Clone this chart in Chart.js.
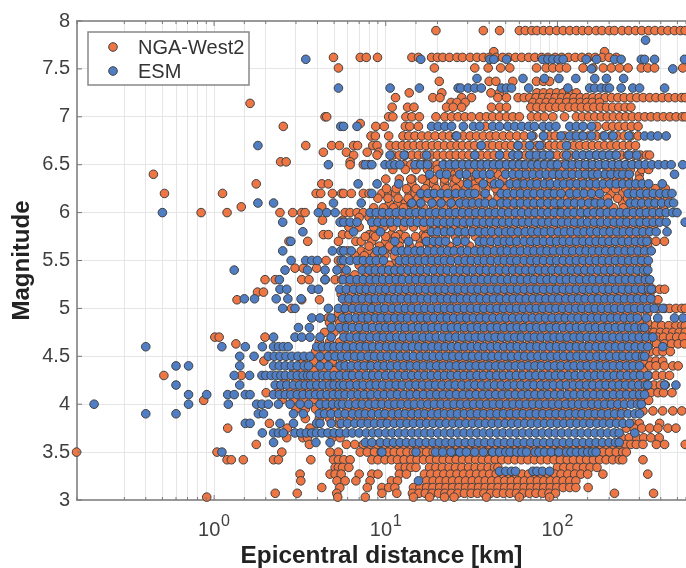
<!DOCTYPE html>
<html>
<head>
<meta charset="utf-8">
<style>
  html, body { margin: 0; padding: 0; background: #fff; overflow: hidden; }
  canvas { display: block; }
</style>
<script src="https://cdn.jsdelivr.net/npm/chart.js@4"></script>
</head>
<body>
<canvas id="scatter" width="686" height="568"></canvas>
<script>
const seriesNames = ['NGA-West2', 'ESM'];
const magnitudeTicks = [3, 3.5, 4, 4.5, 5, 5.5, 6, 6.5, 7, 7.5, 8];
const distanceExponents = { 1: '0', 10: '1', 100: '2' };

// NGA-West2: one magnitude per row, distances [km]
const ngaMagnitudes = [7.9, 7.68, 7.62, 7.51, 7.37, 7.25, 7.2, 7.15, 7.1, 7.14, 7, 6.93, 6.9, 6.8, 6.7, 6.63, 6.6, 6.53, 6.5, 6.4, 6.35, 6.3, 6.2, 6.1, 6.06, 6, 5.92, 5.77, 5.7, 5.6, 5.5, 5.42, 5.3, 5.17, 5.2, 5.09, 5, 4.9, 4.82, 4.75, 4.7, 4.63, 4.55, 4.45, 4.4, 4.3, 4.2, 4.12, 4.04, 3.93, 3.8, 3.75, 3.65, 3.58, 3.5, 3.42, 3.34, 3.27, 3.2, 3.13, 3.07, 3.03,
  6.45, 6.35, 6.25, 6.15, 6.05, 5.95, 5.85, 5.75, 5.65, 5.55, 5.45, 5.35, 5.25, 5.15, 5.05, 4.95, 4.85, 4.75, 4.65, 4.55, 4.45, 4.35, 4.25, 4.15, 4.05, 3.95, 3.85];
const ngaDistances = [
  [19.6, 37, 46, 60, 65, 71, 76, 83, 90, 99, 108, 118, 129, 140, 152, 168, 182, 200, 215, 238, 260, 285, 310, 340, 370, 405, 440, 480, 520, 555],
  [42.6, 188],
  [4.96, 7.1, 7.7, 8.95, 14.2, 15.5, 18.5, 20, 21.5, 23.5, 26, 28, 31, 34, 37, 40, 44, 48, 52, 57, 62, 68, 74, 81, 88, 97, 106, 116, 127, 139, 152, 166, 182, 200, 220],
  [5.3, 19.2, 33, 39.5, 46.7, 52.8, 75.5, 86, 94, 103, 113, 141, 161, 185, 206, 230, 258, 308, 336, 368, 537],
  [20.5, 40, 43.8, 55, 75.5, 83, 90],
  [13.7, 21.2, 41, 46, 76, 83, 91, 99, 108, 118, 129],
  [11.4, 18.8, 20.7, 27.7, 31.6, 45, 50.5, 59, 64, 69, 75, 82, 89, 97, 106, 115, 125, 136, 148, 161, 175, 190, 207, 225, 245, 267, 290, 316, 345, 375, 408, 445, 485, 528, 555],
  [24, 26, 29, 72, 79, 86, 94, 103, 113, 124, 136, 148, 160, 176],
  [10.9, 13.4, 14.6, 22.6, 24.7, 27.7, 41.3, 46.2, 50.5, 70, 76, 83, 90, 98, 107, 117, 127, 138, 150, 163, 178, 193, 210, 228, 248, 268],
  [1.62],
  [4.43, 4.53, 10.4, 11, 13.1, 14.2, 15.7, 19.6, 22.1, 24.2, 26.4, 28.9, 31.6, 35.3, 38.6, 42, 46, 50.5, 55, 60, 70.6, 77, 84, 94, 110, 129, 140, 152, 165, 180, 195, 212, 231, 251, 273, 297, 323, 351, 382, 415, 452, 491, 534, 556],
  [7.1],
  [2.53, 8.75, 9.8, 13, 13.8, 15.5, 38, 170, 193, 210, 228, 248, 270, 295],
  [8.2, 8.7, 10.4, 12.6, 13.6, 14.8, 16.2, 17.7, 19.4, 21.5, 23.5, 25.6, 28.3, 31, 33.8, 37, 40.5, 44, 48.3, 52.8, 58, 64, 72, 83, 90, 97, 110, 124, 138, 152, 168, 185, 205, 224, 245, 268, 295],
  [3.42, 4.84, 5.37, 6.5, 6.85, 8.4, 8.9, 10.6, 11.5, 12.5, 13.5, 14.6, 15.9, 17.2, 18.7, 20.2, 22, 24, 26, 28, 30.5, 33, 36, 39, 42, 46, 50, 54, 59, 64, 70, 76, 82, 90, 97, 105, 115, 125, 135, 147, 160, 174, 189, 205, 222, 242, 263, 285],
  [4.33, 5.9, 7.8, 9.1],
  [6.5, 8.9, 11, 12, 13, 14.2, 15.5, 16.8, 18.3, 20, 21.7, 23.7, 25.7, 28, 30.5, 33.2, 36, 39.3, 42.8, 46.5, 50.7, 55.2, 60, 65.4, 71.3, 77.6, 84.5, 92, 100, 109, 119, 129, 141, 153, 167, 182, 198, 216, 235, 256, 279, 304, 330, 344],
  [2.44, 2.63, 6.2],
  [6.2, 7.4, 8, 12.8, 14, 15.3, 16.7, 18.2, 19.9, 22, 24.4, 26.6, 29, 31.6, 34.5, 37.6, 41, 44.7, 48.7, 53, 58, 63, 69, 75, 82, 89, 97, 106, 115, 126, 137, 150, 163, 178, 194, 212, 231, 252, 275, 300],
  [0.443, 25, 40.5, 45, 90, 98, 155, 190, 215, 250, 300],
  [10, 14.2, 17.6, 22, 25, 31, 35],
  [1.76, 4.24, 4.63, 14.2, 17.6, 19, 22, 25, 27, 33, 40, 48, 55, 60],
  [0.514, 1.12, 3.93, 4.18, 4.89, 5.54, 5.68, 6.3, 7.4, 8, 9.5, 10.4, 11.4, 13.7, 14.8, 16, 17.3, 18.8, 20.6, 22.6, 24.8, 34, 45, 90, 115, 150, 205, 240],
  [10.5, 11.8, 13, 14, 15.5, 33, 100, 125, 160, 240],
  [1.44, 4.24],
  [0.84, 1.19, 2.42, 2.87, 3.24, 3.39, 5.8, 6.2, 6.8, 7.4, 100, 145],
  [3.17, 4.28, 5.6],
  [4.33, 4.63, 5.6, 6.1, 8, 8.5, 10.8, 12, 16.5, 17.3],
  [2.73, 3.51, 5.3, 6.7, 7.2, 8.3, 10, 11, 12, 16, 17, 340, 375, 420],
  [5.6, 6, 7.2, 7.9, 9.8, 11, 25],
  [4.49, 5.3, 11.5],
  [2.96, 3.31, 3.96, 5.5],
  [1.98, 2.27, 3.24, 3.57, 4.43, 5.07, 5.54],
  [1.79, 1.94],
  [360, 394, 421],
  [1.36, 3.24, 4.11, 8, 9, 360, 385],
  [2.83, 386, 420, 450, 490, 530, 555],
  [4.6, 5.2, 5.7],
  [345, 372, 405, 445, 490, 530, 555],
  [338, 365, 398, 432, 470, 512, 555],
  [1.01, 1.07, 1.98, 352, 382, 415, 455, 495, 538],
  [1.34, 345, 378, 420, 462, 505, 550],
  [348, 380, 412, 455],
  [1.95, 322, 345, 375, 410],
  [5.07, 315, 345, 375, 420, 470, 505],
  [0.51, 1.44, 310, 340, 375, 410, 450],
  [336, 365, 398, 425],
  [2.01, 322, 350, 385, 415, 465],
  [0.87, 310, 340],
  [315, 360, 410, 470, 530],
  [2.1, 5.3, 275, 300, 394],
  [1.2, 2.67, 3.62, 252, 280, 310, 345, 385, 440, 490],
  [2.65, 3.29, 3.5, 4.9, 5.42, 238, 262, 290, 318, 350, 392],
  [1.76, 3.59, 5.9, 6.6, 7.4, 8.1, 8.9, 9.8, 10.7, 11.6, 12.7, 13.9, 15.1, 16.5, 18, 19.7, 21.5, 23.5, 25.6, 28, 30.5, 33.3, 36.4, 39.7, 43.3, 47.3, 51.6, 56.4, 61.6, 67.2, 73.4, 80, 87.4, 95.4, 104, 114, 124, 135, 148, 161, 176, 192, 210, 229, 250, 268, 288, 315, 377, 421, 555],
  [0.158, 1.04, 2.48, 4.74, 5.3, 7.1, 7.8, 8.6, 9.4, 10.3, 11.2, 12.2, 13.3, 14.5, 15.8, 17.3, 18.9, 20.6, 22.5, 24.6, 26.8, 29.3, 32, 34.9, 38.1, 41.6, 45.4, 49.6, 54.1, 59, 64.5, 70.4, 76.8, 83.8, 91.5, 99.9, 109, 119, 130, 142, 155, 169, 184, 201, 220, 240, 252],
  [1.19, 1.26, 1.48, 2.22, 2.37, 3.66, 4.96, 5.3, 5.7, 6.2, 8.3, 9, 9.9, 10.8, 11.7, 12.8, 14, 15.2, 16.6, 18.1, 19.8, 21.6, 23.6, 25.7, 28, 30.6, 33.4, 36.5, 39.8, 43.4, 47.4, 51.7, 56.5, 61.7, 67.3, 73.5, 80.2, 87.5, 95.5, 104, 114, 124, 136, 148, 162, 176, 192, 210, 229, 240, 315],
  [5.07, 5.3, 5.6, 6.1, 12, 13, 14, 15, 18, 19.6, 21.4, 23.4, 25.5, 27.8, 30.4, 33.2, 36.2, 39.5, 43, 45, 100, 109, 119, 130, 142, 155, 170],
  [3.17, 4.74, 5.07, 5.5, 7, 8.3, 9, 12, 13.2, 16.8, 18.3, 20, 21.8, 23.8, 26, 28.4, 31, 33.8, 36.9, 40.3, 44, 48, 52.4, 57.2, 62.4, 68, 74.4, 81.2, 88.6, 96.7, 105, 115, 126, 137, 150, 184, 336],
  [3.2, 5.2, 5.8, 6.7, 8.1, 10.8, 11.7, 17.3, 18.9, 20.6, 22.5, 24.5, 26.7, 29.2, 31.9, 34.8, 38, 41.4, 45.2, 49.4, 53.9, 58.8, 64.2, 70, 76.4, 83.4, 91, 99.3, 108, 118, 128],
  [4.24, 5.4, 7.8, 9.5, 10.4, 11.3, 14.5, 15.8, 17.3, 18.8, 20.6, 22.4, 24.5, 26.7, 29.2, 31.8, 34.7, 37.9, 41.4, 45.1, 49.3, 53.8, 58.7, 64, 69.9, 76.3, 83.2, 90.8, 99.1, 108, 118, 128, 151],
  [2.27, 3.05, 5.18, 9.5, 11.6, 14.3, 15.6, 17, 18.6, 20.3, 22.1, 24.1, 26.3, 28.7, 31.4, 34.2, 37.3, 40.7, 44.4, 48.5, 52.9, 57.7, 63, 68.7, 75, 81.8, 89.3, 97.4, 215, 363],
  [0.906, 5.25, 7.6, 14.5, 18, 22, 25, 38.6, 60, 90],
  // rows mostly hidden under the ESM cloud, seen only in the gaps
  [11, 13, 15, 17.5, 20, 23, 26.5, 31, 36, 42, 49, 57, 66, 77, 90, 105, 122, 143, 167, 195, 228, 266, 310, 340],
  [12, 14, 16.3, 19, 22, 25.7, 30, 35, 41, 48, 56, 65, 76, 88, 103, 120, 140, 163, 190, 222, 259, 300],
  [10.1, 11.5, 13.2, 15, 17, 19.6, 22.4, 25.6, 29.3, 33.5, 38.3, 43.8, 50, 57.2, 65.4, 74.8, 85.5, 97.8, 112, 128, 146, 167, 191, 218, 250, 285, 326, 372, 425],
  [9, 10.3, 11.8, 13.5, 15.4, 17.6, 20.1, 23, 26.3, 30.1, 34.4, 39.3, 45, 51.4, 58.8, 67.2, 76.9, 87.9, 100, 115, 131, 150, 172, 196, 224, 256, 293, 335, 383, 438],
  [8.5, 9.7, 11.1, 12.7, 14.5, 16.6, 19, 21.7, 24.8, 28.4, 32.4, 37.1, 42.4, 48.5, 55.4, 63.4, 72.5, 82.9, 94.8, 108, 124, 142, 162, 185, 212, 242, 277, 316, 362, 414],
  [7, 8, 9.2, 10.5, 12, 13.7, 15.7, 18, 20.5, 23.5, 26.9, 30.7, 35.1, 40.2, 45.9, 52.5, 60, 68.7, 78.5, 89.8, 103, 117, 134, 154, 176, 201, 230, 262, 300, 343, 392],
  [6.1, 7, 8.5, 9.7, 11, 12.7, 14.5, 16.6, 18.9, 21.7, 24.8, 28.3, 32.4, 37, 42.3, 48.4, 55.3, 63.3, 72.4, 82.7, 94.6, 108, 124, 141, 162, 185, 211, 242, 276, 316, 361],
  [7.6, 8.7, 10, 11.4, 13, 14.9, 17, 19.5, 22.3, 25.5, 29.1, 33.3, 38, 43.5, 49.7, 56.9, 65, 74.3, 85, 97.2, 111, 127, 145, 166, 190, 217, 248, 284, 325],
  [8, 9.2, 10.5, 12, 13.8, 15.7, 18, 20.6, 23.5, 26.9, 30.8, 35.2, 40.2, 46, 52.6, 60.1, 68.7, 78.6, 89.8, 103, 118, 134, 154, 176, 201, 230, 263, 300, 335],
  [6.6, 7.5, 8.6, 9.8, 11.2, 12.9, 14.7, 16.8, 19.2, 22, 25.1, 28.7, 32.8, 37.5, 42.9, 49, 56.1, 64.1, 73.3, 83.8, 95.8, 110, 125, 143, 164, 187, 214, 245, 280, 320],
  [7, 8, 9.2, 10.5, 12, 13.7, 15.7, 18, 20.5, 23.5, 26.9, 30.7, 35.1, 40.2, 45.9, 52.5, 60, 68.7, 78.5, 89.8, 103, 117, 134, 154, 176, 201, 230, 262, 300, 330],
  [5.8, 6.6, 7.6, 8.7, 10, 11.4, 13, 14.9, 17, 19.5, 22.3, 25.5, 29.1, 33.3, 38, 43.5, 49.7, 56.9, 65, 74.3, 85, 97.2, 111, 127, 145, 166, 190, 217, 248, 284, 325],
  [6.2, 7.1, 8.1, 9.3, 10.6, 12.1, 13.9, 15.9, 18.1, 20.7, 23.7, 27.1, 31, 35.4, 40.5, 46.3, 52.9, 60.5, 69.2, 79.1, 90.5, 103, 118, 135, 155, 177, 202, 231, 264, 302, 340],
  [5.5, 6.3, 7.2, 8.2, 9.4, 10.7, 12.3, 14, 16, 18.4, 21, 24, 27.4, 31.4, 35.9, 41, 46.9, 53.6, 61.3, 70.1, 80.2, 91.7, 105, 120, 137, 157, 179, 205, 234, 268, 306, 345],
  [5.9, 6.7, 7.7, 8.8, 10.1, 11.5, 13.2, 15, 17.2, 19.7, 22.5, 25.7, 29.4, 33.6, 38.4, 44, 50.2, 57.5, 65.7, 75.1, 85.9, 98.2, 112, 128, 147, 168, 192, 220, 251, 287, 328],
  [5.3, 6, 6.9, 7.9, 9, 10.3, 11.8, 13.5, 15.4, 17.6, 20.2, 23, 26.4, 30.1, 34.5, 39.4, 45, 51.5, 58.9, 67.3, 77, 88, 101, 115, 132, 151, 172, 197, 225, 257, 294, 336],
  [4.7, 5.4, 6.2, 7.1, 8.1, 9.3, 10.6, 12.1, 13.9, 15.9, 18.1, 20.7, 23.7, 27.1, 31, 35.4, 40.5, 46.3, 52.9, 60.5, 69.2, 79.1, 90.5, 103, 118, 135, 155, 177, 202, 231, 264, 302, 335],
  [4.4, 5, 5.7, 6.6, 7.5, 8.6, 9.8, 11.2, 12.9, 14.7, 16.8, 19.2, 22, 25.1, 28.7, 32.8, 37.5, 42.9, 49, 56.1, 64.1, 73.3, 83.8, 95.8, 110, 125, 143, 164, 187, 214, 245, 280, 320],
  [4.1, 4.7, 5.4, 6.1, 7, 8, 9.2, 10.5, 12, 13.7, 15.7, 18, 20.5, 23.5, 26.9, 30.7, 35.1, 40.2, 45.9, 52.5, 60, 68.7, 78.5, 89.8, 103, 117, 134, 154, 176, 201, 230, 262, 300, 330],
  [3.9, 4.4, 5, 5.8, 6.6, 7.6, 8.7, 10, 11.4, 13, 14.9, 17, 19.5, 22.3, 25.5, 29.1, 33.3, 38, 43.5, 49.7, 56.9, 65, 74.3, 85, 97.2, 111, 127, 145, 166, 190, 217, 248, 284, 325],
  [3.3, 3.8, 4.3, 4.9, 5.6, 6.5, 7.4, 8.4, 9.6, 11, 12.6, 14.4, 16.5, 18.9, 21.6, 24.7, 28.2, 32.2, 36.9, 42.1, 48.2, 55, 63, 72, 82.3, 94.1, 108, 123, 141, 161, 184, 210, 240, 275, 315],
  [2.9, 3.3, 3.8, 4.3, 5, 5.7, 6.5, 7.4, 8.5, 9.7, 11.1, 12.7, 14.5, 16.6, 19, 21.7, 24.8, 28.4, 32.4, 37.1, 42.4, 48.5, 55.4, 63.4, 72.5, 82.9, 94.8, 108, 124, 142, 162, 185, 212, 242, 277, 316],
  [2.6, 3, 3.4, 3.9, 4.5, 5.1, 5.9, 6.7, 7.7, 8.8, 10.1, 11.5, 13.2, 15, 17.2, 19.7, 22.5, 25.7, 29.4, 33.6, 38.4, 44, 50.2, 57.5, 65.7, 75.1, 85.9, 98.2, 112, 128, 147, 168, 192, 220, 251, 287, 320],
  [2.4, 2.8, 3.2, 3.6, 4.1, 4.7, 5.4, 6.2, 7.1, 8.1, 9.3, 10.6, 12.1, 13.9, 15.9, 18.1, 20.7, 23.7, 27.1, 31, 35.4, 40.5, 46.3, 52.9, 60.5, 69.2, 79.1, 90.5, 103, 118, 135, 155, 177, 202, 231, 264, 302],
  [2.5, 2.9, 3.3, 3.8, 4.3, 4.9, 5.6, 6.5, 7.4, 8.4, 9.6, 11, 12.6, 14.4, 16.5, 18.9, 21.6, 24.7, 28.2, 32.2, 36.9, 42.1, 48.2, 55, 63, 72, 82.3, 94.1, 108, 123, 141, 161, 184, 210, 240, 275],
  [3, 3.4, 3.9, 4.5, 5.1, 5.9, 6.7, 7.7, 8.8, 10.1, 11.5, 13.2, 15, 17.2, 19.7, 22.5, 25.7, 29.4, 33.6, 38.4, 44, 50.2, 57.5, 65.7, 75.1, 85.9, 98.2, 112, 128, 147, 168, 192, 220, 240],
  [3.4, 4.1, 4.7, 5.4, 6.2, 7.1, 8.1, 9.3, 10.6, 12.1, 13.9, 15.9, 18.1, 20.7, 23.7, 27.1, 31, 35.4, 40.5, 46.3, 52.9, 60.5, 69.2, 79.1, 90.5, 103, 118, 135, 155, 177, 202, 231]
];

// ESM
const esmMagnitudes = [7.8, 7.6, 7.5, 7.4, 7.3, 6.9, 6.8, 6.7, 6.6, 6.5, 6.4, 6.3, 6.2, 6.1, 6, 5.9, 5.8, 5.7, 5.6, 5.5, 5.4, 5.3, 5.2, 5.1, 5, 4.9, 4.8, 4.7, 4.6, 4.5, 4.4, 4.3, 4.2, 4.1, 4, 3.9, 3.8, 3.7, 3.6, 3.5, 3.3, 3.2];
const esmDistances = [
  [326],
  [3.42, 16, 40.4, 42.6, 50.5, 82, 88, 94, 101, 108, 147, 169, 215, 235, 308, 322, 368, 550],
  [158, 470],
  [34, 63, 84, 102, 128, 165, 193, 243],
  [5.3, 10.6, 15.7, 26.4, 27.3, 30.2, 33, 36, 47.2, 50.5, 54, 68, 115, 154, 165, 180, 193, 201, 235, 275, 301, 421],
  [5.47, 5.68, 6.8, 18.5, 20.2, 22.1, 24.2, 28.3, 32.4, 35.3, 42, 46, 51.5, 56.5, 62, 68, 73.5, 82.6, 90, 98, 118, 129, 141, 158],
  [25.9, 70.6, 83, 105, 118, 129, 141, 158, 188, 211, 261, 322, 352, 384, 430],
  [1.8, 36, 59, 69, 79, 113],
  [10.6, 12.8, 17.3, 33, 46, 55, 59, 69, 75.5, 83, 90, 113, 129, 141, 154, 169, 184, 201, 220, 261, 290],
  [4.63, 7.6, 8.3, 9.9, 10.6, 11.3, 12.1, 14.8, 16, 17.5, 21.6, 23.5, 25.5, 28, 30.5, 33, 36, 39, 42.5, 46, 50.5, 55, 60, 65, 71, 77, 84, 92, 100, 112, 122, 134, 146, 160, 175, 191, 209, 228, 250, 272, 298, 325, 355, 388, 424, 460, 537],
  [18, 20.7, 22.6, 27, 29.5, 33.8, 37, 40.5, 50, 55, 60, 66, 72, 79, 86, 94, 103, 112, 122, 134, 146, 160, 172, 190, 205, 225, 240, 262, 481],
  [6.9, 8.9, 11.9, 30, 37, 43, 46, 53, 58, 64, 70, 76, 84, 91, 100, 109, 119, 130, 142, 155, 169, 185, 202, 220, 240, 262, 286, 312, 340, 408],
  [8.3, 16, 17.6, 19.2, 21, 23, 25.6, 28, 30.5, 33, 38, 47, 51, 56, 61, 67, 73, 80, 88, 96, 105, 118, 130, 143, 158, 176, 258, 280, 305, 332, 362, 395, 430, 465],
  [1.8, 2.22, 4.96, 7.2, 14.2, 16, 18.6, 21, 24, 27, 29.5, 32, 35, 38, 42, 47, 51, 56, 61, 67, 73, 80, 88, 96, 105, 115, 126, 138, 152, 166, 180, 198, 265, 285, 310, 340, 370, 405, 445, 475],
  [0.5, 4.05, 4.53, 5.07, 8.1, 8.8, 9.6, 10.5, 11.5, 12.6, 13.8, 15, 16.4, 18, 19.6, 21.5, 23.5, 25.6, 28, 30.6, 33.5, 36.5, 40, 43.5, 47.5, 52, 57, 62, 68, 74, 81, 88, 96, 105, 115, 125, 137, 150, 163, 178, 195, 213, 232, 254, 277, 303, 330, 360, 394, 430, 470, 497],
  [2.51, 5.42, 5.7, 6.2, 6.8, 8.3, 9, 9.8, 10.7, 11.7, 12.9, 14, 15.3, 16.7, 18.3, 20, 21.8, 23.8, 26, 28.4, 31, 33.9, 37, 40.4, 44, 48, 52.5, 57.3, 62.6, 68.3, 74.6, 81.4, 89, 97, 106, 116, 126, 138, 150, 164, 179, 196, 214, 233, 254, 278, 303, 331, 361, 394, 430, 555],
  [3.29, 6.5, 9.3, 18.5, 20, 22, 24, 26.5, 29, 32, 35, 38, 41.5, 45.5, 50, 54, 59, 65, 71, 77, 84, 92, 101, 110, 120, 131, 143, 156, 170, 186, 203, 222, 242, 264, 288, 315, 345, 376, 435],
  [2.8, 11.3, 13.6, 17.3, 19, 20.5, 22.3, 26, 29, 35, 37.5, 41, 45, 49, 53, 58, 64, 70, 76, 83, 91, 99, 108, 118, 129, 141, 154, 168, 183, 200, 218, 238, 260, 285, 310, 332],
  [2.51, 4.89, 5.47, 5.7, 6.3, 8.9, 9.6, 11.4, 12.4, 13.5, 14.8, 16, 17.6, 19.2, 21, 23, 25, 27.5, 30, 33, 36, 39, 43, 47, 51, 56, 61, 67, 73, 80, 87, 95, 104, 113, 123, 135, 147, 160, 175, 191, 208, 227, 248, 270, 295, 322, 352],
  [2.81, 3.42, 3.71, 4, 5.5, 5.7, 6.2, 6.8, 7.4, 8.1, 8.8, 9.7, 12, 13.1, 14.3, 15.6, 17, 18.6, 20.3, 22, 24, 26.5, 29, 31.5, 34.5, 37.5, 41, 45, 49, 53.5, 58, 64, 70, 76, 83, 91, 99, 108, 118, 129, 141, 154, 168, 183, 200, 218, 238, 260, 284, 310, 338],
  [1.31, 2.59, 3.5, 4.43, 5.2, 5.9, 7.3, 8, 8.7, 9.5, 10.4, 11.3, 12.3, 13.5, 14.7, 16, 17.5, 19.1, 20.9, 22.8, 24.9, 27.2, 29.7, 32.4, 35.4, 38.6, 42.2, 46, 50.3, 54.9, 60, 65.5, 71.5, 78, 85.2, 93, 101.6, 111, 121, 132, 144.5, 157.8, 172, 188, 205, 224, 245, 267, 292, 318, 336],
  [2.4, 4.43, 5.65, 6.2, 6.8, 7.4, 8.1, 8.8, 9.6, 10.5, 11.5, 12.5, 13.7, 15, 16.4, 17.9, 19.5, 21.3, 23.3, 25.4, 27.8, 30.3, 33.1, 36.2, 39.5, 43.1, 47.1, 51.4, 56.1, 61.3, 67, 73, 80, 87, 95, 104, 113, 124, 135, 148, 161, 176, 192, 210, 229, 250, 273, 298, 325, 345],
  [2.42, 2.65, 3.71, 4.05, 5.4, 5.9, 6.5, 7.1, 7.7, 8.4, 9.2, 10, 11, 12, 13.1, 14.3, 15.6, 17.1, 18.7, 20.4, 22.2, 24.3, 26.5, 29, 31.6, 34.5, 37.7, 41.2, 45, 49.1, 53.6, 58.6, 64, 70, 76, 83, 91, 99, 108, 118, 129, 141, 154, 168, 184, 200, 219, 239, 261, 285, 311, 340, 352],
  [1.5, 1.72, 2.3, 2.69, 3.21, 5.6, 6.1, 6.7, 7.3, 8, 8.7, 9.5, 10.4, 11.3, 12.3, 13.5, 14.7, 16.1, 17.6, 19.2, 21, 22.9, 25, 27.3, 29.8, 32.5, 35.5, 38.8, 42.4, 46.3, 50.6, 55.2, 60.3, 65.8, 71.9, 78.5, 85.7, 93.6, 102, 112, 122, 133, 145, 159, 173, 189, 206, 225, 246, 269, 293, 320, 350],
  [2.51, 2.96, 4.63, 5.3, 5.8, 6.4, 7, 7.6, 8.3, 9.1, 9.9, 10.9, 11.9, 13, 14.2, 15.5, 16.9, 18.5, 20.2, 22, 24, 26.2, 28.7, 31.3, 34.2, 37.3, 40.7, 44.5, 48.6, 53, 57.9, 63.2, 69, 75.3, 82.2, 89.8, 98, 107, 117, 128, 139, 152, 166, 181, 198, 216, 236, 258, 282, 308, 336, 367, 411],
  [3.71, 4.14, 4.81, 5.6, 6.1, 6.7, 7.3, 7.9, 8.7, 9.4, 10.3, 11.3, 12.3, 13.4, 14.7, 16, 17.5, 19.1, 20.9, 22.8, 24.9, 27.2, 29.7, 32.4, 35.4, 38.6, 42.2, 46.1, 50.3, 54.9, 60, 65.5, 71.5, 78.1, 85.3, 93.1, 102, 111, 121, 132, 145, 158, 172, 188, 205, 224, 245, 267, 292, 330, 384, 481, 540],
  [3.1, 3.59, 4.81, 5.4, 5.9, 6.4, 7, 7.7, 8.4, 9.2, 10, 10.9, 12, 13, 14.3, 15.6, 17, 18.6, 20.3, 22.2, 24.2, 26.4, 28.8, 31.5, 34.4, 37.5, 41, 44.7, 48.9, 53.4, 58.3, 63.6, 69.5, 75.8, 82.8, 90.4, 98.7, 108, 118, 129, 140, 153, 167, 183, 199, 218, 238, 260, 283, 310, 322],
  [2.22, 2.96, 3.24, 3.62, 4.14, 4.81, 5.7, 6.2, 6.8, 7.4, 8.1, 8.9, 9.7, 10.6, 11.6, 12.6, 13.8, 15.1, 16.5, 18, 19.7, 21.5, 23.4, 25.6, 28, 30.5, 33.3, 36.4, 39.7, 43.4, 47.4, 51.7, 56.5, 61.7, 67.4, 73.6, 80.3, 87.7, 95.7, 104, 114, 125, 136, 149, 162, 177, 193, 211, 231, 252, 275, 300, 328, 360],
  [0.4, 1.11, 1.52, 1.91, 2.22, 2.37, 2.53, 2.7, 3.96, 4.28, 4.63, 5, 5.42, 5.9, 6.5, 7.1, 7.7, 8.4, 9.2, 10.1, 11, 12, 13.1, 14.3, 15.6, 17, 18.6, 20.3, 22.2, 24.2, 26.4, 28.8, 31.5, 34.4, 37.5, 41, 44.8, 48.9, 53.4, 58.3, 63.7, 69.5, 75.9, 82.9, 90.5, 98.8, 108, 118, 129, 141, 153, 168, 183, 200, 218, 238, 260, 284, 310, 336, 411],
  [1.41, 1.71, 2.07, 2.24, 2.42, 2.62, 2.84, 3.08, 3.34, 3.62, 4.14, 4.63, 5.07, 5.54, 6, 6.6, 7.2, 7.9, 8.6, 9.4, 10.2, 11.2, 12.2, 13.3, 14.5, 15.9, 17.3, 18.9, 20.6, 22.5, 24.6, 26.8, 29.3, 32, 34.9, 38.1, 41.6, 45.4, 49.6, 54.1, 59.1, 64.5, 70.4, 76.9, 83.9, 91.6, 100, 109, 119, 130, 142, 155, 170, 185, 202, 221, 241, 263, 287, 313, 322],
  [0.6, 0.71, 1.41, 2.22, 2.4, 2.6, 2.82, 3.05, 3.35, 3.55, 4.14, 4.63, 5.42, 5.8, 6.3, 6.9, 7.5, 8.2, 9, 9.8, 10.7, 11.7, 12.8, 13.9, 15.2, 16.6, 18.2, 19.8, 21.6, 23.6, 25.8, 28.2, 30.8, 33.6, 36.7, 40, 43.7, 47.7, 52.1, 56.9, 62.1, 67.8, 74, 80.8, 88.2, 96.3, 105, 115, 125, 137, 149, 163, 178, 194, 212, 232, 253, 276, 301],
  [1.31, 1.61, 1.9, 2, 2.15, 2.3, 2.45, 2.6, 2.82, 3.05, 3.3, 3.5, 3.65, 3.96, 4.3, 4.6, 5, 5.4, 5.9, 6.4, 7, 7.7, 8.4, 9.1, 10, 10.9, 11.9, 13, 14.2, 15.5, 16.9, 18.4, 20.1, 22, 24, 26.2, 28.6, 31.2, 34, 37.1, 40.5, 44.3, 48.3, 52.7, 57.6, 62.8, 68.6, 74.9, 81.8, 89.2, 97.4, 106, 116, 127, 138, 151, 165, 180, 196, 214, 234, 255, 279, 304, 336],
  [0.6, 1.41, 2.27, 2.45, 2.65, 2.9, 3.15, 3.4, 3.65, 3.96, 4.3, 4.7, 5, 5.4, 5.7, 6.2, 6.8, 7.4, 8.1, 8.8, 9.6, 10.5, 11.5, 12.5, 13.7, 15, 16.4, 17.9, 19.5, 21.3, 23.3, 25.4, 27.8, 30.3, 33.1, 36.2, 39.5, 43.1, 47.1, 51.4, 56.1, 61.3, 67, 73, 80, 87, 95, 104, 113, 124, 135, 148, 161, 176, 192, 210, 229, 250, 273, 298, 325, 336, 421, 490],
  [0.71, 0.906, 1.2, 1.31, 1.52, 1.62, 2.22, 2.4, 2.6, 2.8, 3.05, 3.3, 3.6, 3.9, 4.2, 4.55, 4.95, 5.35, 5.8, 6.3, 6.9, 7.5, 8.2, 9, 9.8, 10.7, 11.7, 12.8, 13.9, 15.2, 16.6, 18.2, 19.8, 21.6, 23.6, 25.8, 28.2, 30.8, 33.6, 36.7, 40, 43.7, 47.7, 52.1, 56.9, 62.1, 67.8, 74, 80.8, 88.2, 96.3, 105, 115, 125, 137, 149, 163, 178, 194, 212, 232, 253, 276, 301, 322],
  [0.2, 0.71, 1.21, 1.77, 1.9, 2.07, 2.37, 2.77, 3.17, 3.55, 4.14, 4.5, 4.9, 5.3, 5.6, 6.1, 6.7, 7.3, 8, 8.7, 9.5, 10.4, 11.3, 12.3, 13.5, 14.7, 16.1, 17.6, 19.2, 21, 22.9, 25, 27.3, 29.8, 32.5, 35.5, 38.8, 42.4, 46.3, 50.6, 55.2, 60.3, 65.8, 71.9, 78.5, 85.7, 93.6, 102, 112, 122, 133, 145, 159, 173, 189, 206, 225, 246, 269, 293, 308],
  [0.4, 0.6, 1.81, 1.94, 2.9, 3.31, 4.1, 4.4, 4.8, 5.3, 5.8, 6.4, 7, 7.6, 8.3, 9.1, 9.9, 10.9, 11.9, 13, 14.2, 15.5, 16.9, 18.5, 20.2, 22, 24, 26.2, 28.7, 31.3, 34.2, 37.3, 40.7, 44.5, 48.6, 53, 57.9, 63.2, 69, 75.3, 82.2, 89.8, 98, 107, 117, 128, 139, 152, 166, 181, 198, 216, 236, 258, 282, 301],
  [1.52, 1.62, 2.42, 2.9, 3.96, 4.14, 4.81, 5.5, 6, 6.6, 7.2, 7.9, 8.6, 9.4, 10.2, 11.2, 12.2, 13.3, 14.5, 15.9, 17.3, 18.9, 20.6, 22.5, 24.6, 26.8, 29.3, 32, 34.9, 38.1, 41.6, 45.4, 49.6, 54.1, 59.1, 64.5, 70.4, 76.9, 83.9, 91.6, 100, 109, 119, 130, 142, 155, 170, 185, 202, 221, 241, 263],
  [1.91, 2.22, 2.37, 2.53, 2.96, 3.2, 3.45, 3.7, 3.95, 4.25, 4.6, 5, 5.4, 5.9, 6.4, 7, 7.7, 8.4, 9.1, 10, 10.9, 11.9, 13, 14.2, 15.5, 16.9, 18.4, 20.1, 22, 24, 26.2, 28.6, 31.2, 34, 37.1, 40.5, 44.3, 48.3, 52.7, 57.6, 62.8, 68.6, 74.9, 81.8, 89.2, 97.4, 106, 116, 127, 138, 151, 165, 180, 196, 214, 229, 282],
  [2.22, 3.92, 4.74, 7.6, 8.3, 9.3, 10.2, 11.1, 12.1, 13.2, 14.4, 15.7, 17.2, 18.8, 20.5, 22.4, 24.4, 26.6, 29.1, 31.8, 34.7, 37.8, 41.3, 45.1, 49.2, 53.7, 58.6, 64, 69.9, 76.3, 83.3, 90.9, 99.2, 108, 118, 129, 141, 154, 168, 183, 200, 218, 229],
  [1.11, 9.5, 15, 19.5, 21.5, 24, 27, 29.5, 33, 37, 42, 46, 50, 53, 58, 62, 66, 74, 78, 84, 92, 102, 113, 120, 129, 140, 150, 160, 168],
  [46, 50, 54, 57, 72, 76, 82, 90],
  [15.5]
];

const framePlugin = {
  id: 'frame',
  afterDatasetsDraw(chart) {
    const ctx = chart.ctx;
    const area = chart.chartArea;
    const xScale = chart.scales.x;
    ctx.save();
    // top line and inward ticks, the library only draws the left/bottom axes
    ctx.strokeStyle = '#999';
    ctx.lineWidth = 2;
    ctx.beginPath();
    ctx.moveTo(area.left, area.top);
    ctx.lineTo(area.right, area.top);
    ctx.stroke();
    ctx.lineWidth = 1;
    ctx.strokeStyle = '#777';
    ctx.beginPath();
    xScale.ticks.forEach(tick => {
      const x = xScale.getPixelForValue(tick.value);
      const len = distanceExponents[tick.value] ? 5 : 3;
      ctx.moveTo(x, area.top);
      ctx.lineTo(x, area.top + len);
      ctx.moveTo(x, area.bottom);
      ctx.lineTo(x, area.bottom - len);
    });
    magnitudeTicks.forEach(value => {
      const y = chart.scales.y.getPixelForValue(value);
      ctx.moveTo(area.left, y);
      ctx.lineTo(area.left + 5, y);
    });
    ctx.stroke();

    // 10^n labels, canvas ticks can't do a proper superscript
    ctx.fillStyle = '#404040';
    ctx.textBaseline = 'alphabetic';
    ctx.textAlign = 'left';
    Object.keys(distanceExponents).forEach(value => {
      const x = xScale.getPixelForValue(Number(value));
      ctx.font = '20px "Liberation Sans"';
      ctx.fillText('10', x - 16, 536);
      ctx.font = '16px "Liberation Sans"';
      ctx.fillText(distanceExponents[value], x + 7, 526);
    });

    // legend box
    ctx.fillStyle = '#fff';
    ctx.strokeStyle = '#888';
    ctx.lineWidth = 1.5;
    ctx.fillRect(88, 32, 161, 53);
    ctx.strokeRect(88, 32, 161, 53);
    ctx.font = '20px "Liberation Sans"';
    ctx.textBaseline = 'middle';
    chart.data.datasets.forEach((set, i) => {
      const y = 47 + i * 24;
      ctx.beginPath();
      ctx.arc(113, y, 4.3, 0, Math.PI * 2);
      ctx.fillStyle = set.backgroundColor;
      ctx.fill();
      ctx.strokeStyle = set.borderColor;
      ctx.lineWidth = 1;
      ctx.stroke();
      ctx.fillStyle = '#333';
      ctx.fillText(set.label, 138, y + 1);
    });
    ctx.restore();
  }
};

function rowsToPoints(magnitudes, distances) {
  return magnitudes.flatMap((m, i) => distances[i].map(d => ({ x: d, y: m })));
}

function makeSet(label, points, color, order) {
  return {
    label: label,
    data: points,
    order: order, // lower order is painted last, ESM sits on top
    backgroundColor: color,
    borderColor: '#404040',
    borderWidth: 1,
    pointRadius: 4.3,
    clip: false
  };
}

new Chart(document.getElementById('scatter'), {
  type: 'scatter',
  data: {
    datasets: [
      makeSet(seriesNames[0], rowsToPoints(ngaMagnitudes, ngaDistances), '#ee7644', 1),
      makeSet(seriesNames[1], rowsToPoints(esmMagnitudes, esmDistances), '#507ec4', 0)
    ]
  },
  options: {
    responsive: false,
    animation: false,
    layout: { autoPadding: false, padding: { top: 21, right: 0 } },
    plugins: { legend: { display: false }, tooltip: { enabled: false } },
    scales: {
      x: {
        type: 'logarithmic',
        min: 0.159,
        max: 561,
        afterFit: scale => {
          scale.height = 68;
          scale.paddingLeft = 0;
          scale.paddingRight = 0;
        },
        border: { color: '#999', width: 2 },
        grid: { color: '#e6e6e6', lineWidth: 1, drawTicks: false },
        ticks: { autoSkip: false, maxRotation: 0, callback: () => '' },
        title: {
          display: true,
          text: 'Epicentral distance [km]',
          color: '#222',
          font: { family: 'Liberation Sans', size: 24.4, weight: 'bold' },
          padding: { top: 0, bottom: -3 }
        }
      },
      y: {
        min: 3,
        max: 8,
        afterFit: scale => { scale.width = 77; },
        afterBuildTicks: scale => { scale.ticks = magnitudeTicks.map(v => ({ value: v })); },
        border: { color: '#999', width: 2 },
        grid: { color: '#e6e6e6', lineWidth: 1, drawTicks: false },
        ticks: {
          padding: 7,
          color: '#404040',
          font: { family: 'Liberation Sans', size: 20 },
          callback: value => String(value)
        },
        title: {
          display: true,
          text: 'Magnitude',
          color: '#222',
          font: { family: 'Liberation Sans', size: 24, weight: 'bold' },
          padding: { top: 8, bottom: 0 }
        }
      }
    }
  },
  plugins: [framePlugin]
});
</script>
</body>
</html>
